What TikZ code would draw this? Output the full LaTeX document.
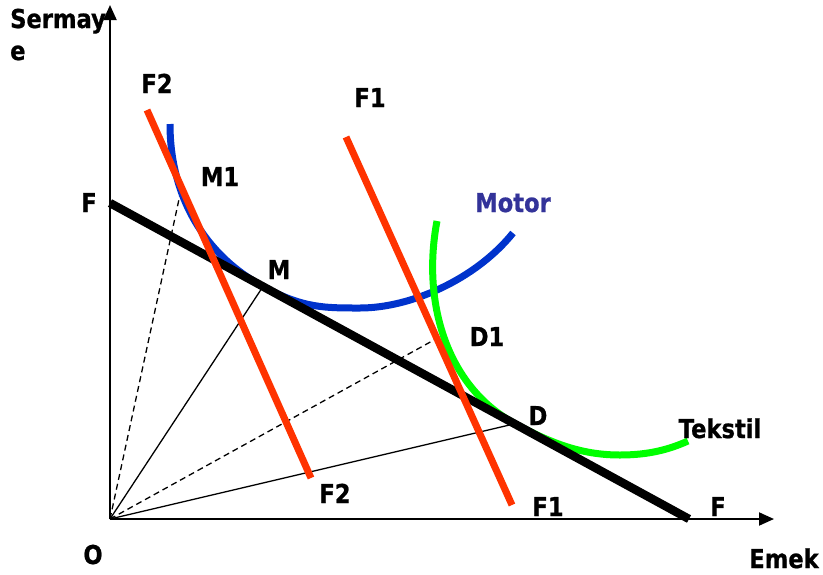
\documentclass[tikz,border=0pt]{standalone}
\usepackage{fontspec}
\setmainfont{DejaVu Sans}
\newfontfamily\lblfont{DejaVu Sans Bold}[FakeStretch=0.87,FakeBold=0.8]
\usetikzlibrary{arrows.meta}
\definecolor{redF}{HTML}{FF3300}
\definecolor{blueM}{HTML}{0033CC}
\definecolor{greenT}{HTML}{00FF00}
\definecolor{motorlbl}{HTML}{333399}
\begin{document}
\begin{tikzpicture}[x=1pt,y=-1pt,
  lbl/.style={font=\fontsize{26}{30}\lblfont, inner sep=0pt, anchor=base},
  axis/.style={line width=2pt, -{Triangle[length=15pt,width=13pt]}},
  budget/.style={line width=8.5pt, black},
  iso/.style={line width=7pt, redF},
  ray/.style={line width=1.3pt, black},
  dray/.style={ray, dash pattern=on 6pt off 4pt}]
\useasboundingbox (0,0) rectangle (823,574);
% key points
\coordinate (O) at (110,519);
\coordinate (Ytop) at (110,5);
\coordinate (Xend) at (774,519);
\coordinate (Fa) at (110,203);
\coordinate (Fb) at (689,519);
\coordinate (M1) at (181,190);
\coordinate (M) at (263,286.5);
\coordinate (D1) at (443,335);
\coordinate (D) at (515,423.7);
\coordinate (F2a) at (147,110);
\coordinate (F2b) at (311,478);
\coordinate (F1a) at (346,137);
\coordinate (F1b) at (512,505);
% axes
\draw[axis] (O) -- (Ytop);
\draw[axis] (O) -- (Xend);
% rays
\draw[dray] (O) -- (M1);
\draw[ray] (O) -- (M);
\draw[dray] (O) -- (D1);
\draw[ray] (O) -- (D);
% Motor isoquant
\draw[line width=7pt, blueM] (170,124) .. controls (170,195) and (203,253.8) .. (M)
  .. controls (303,308.3) and (325,308) .. (360,308)
  .. controls (410,308) and (475,280) .. (513,233);
% Tekstil isoquant
\draw[line width=7pt, greenT] (437,221) .. controls (422,300) and (445,385.7) .. (D)
  .. controls (555,445.5) and (585,455) .. (620,455)
  .. controls (650,455) and (670,449) .. (688,441);
% budget line
\draw[budget] (Fa) -- (Fb);
% iso-cost lines
\draw[iso] (F2a) -- (F2b);
\draw[iso] (F1a) -- (F1b);
% labels
\node[lbl, anchor=base west] (lS1) at (10,28) {Sermay};
\node[lbl, anchor=base west] (lS2) at (10,60) {e};
\node[lbl] (lF2t) at (157,93) {F2};
\node[lbl] (lF1t) at (370,107) {F1};
\node[lbl] (lM1) at (220,186) {M1};
\node[lbl] (lM) at (279,279) {M};
\node[lbl] (lFl) at (89,212) {F};
\node[lbl, text=motorlbl] (lMotor) at (513,212) {Motor};
\node[lbl] (lD1) at (487,346) {D1};
\node[lbl] (lD) at (538,425) {D};
\node[lbl] (lTek) at (720,438) {Tekstil};
\node[lbl] (lF1b) at (548,516) {F1};
\node[lbl] (lFr) at (718,516) {F};
\node[lbl] (lEmek) at (784,568) {Emek};
\node[lbl] (lF2b) at (335,503) {F2};
\node[lbl] (lO) at (93,564) {O};
\end{tikzpicture}
\end{document}
